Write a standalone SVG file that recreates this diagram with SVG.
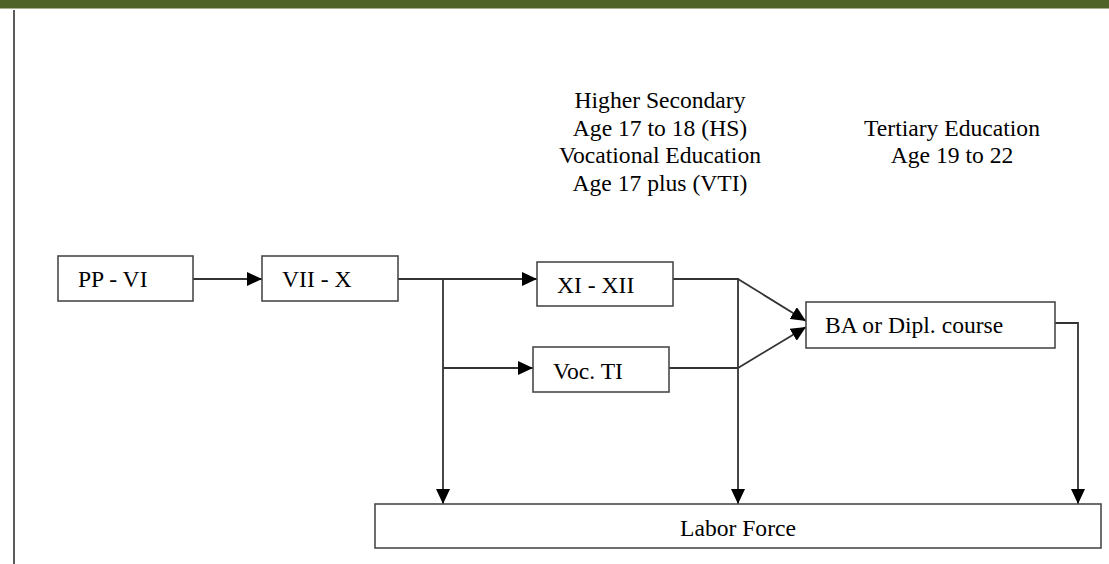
<svg xmlns="http://www.w3.org/2000/svg" width="1109" height="564" viewBox="0 0 1109 564">
<style>
.box{fill:#fff;stroke:#4a4a4a;stroke-width:1.6}
.t{font-family:"Liberation Serif","Times New Roman",serif;font-size:23.6px;fill:#000}
.c{text-anchor:middle}
.ln{fill:none;stroke:#333;stroke-width:1.8}
</style>
<defs>
<marker id="ah" viewBox="0 0 15 14" refX="15" refY="7" markerWidth="15" markerHeight="14" markerUnits="userSpaceOnUse" orient="auto">
<path d="M0,0 L15,7 L0,14 Z" fill="#000"/>
</marker>
</defs>
<rect x="0" y="0" width="1109" height="8.5" fill="#4f6228"/>
<line x1="14" y1="10" x2="14" y2="564" stroke="#333" stroke-width="1.6"/>
<g id="header-hs">
<text class="t c" x="660" y="108">Higher Secondary</text>
<text class="t c" x="660" y="136">Age 17 to 18 (HS)</text>
<text class="t c" x="660" y="163">Vocational Education</text>
<text class="t c" x="660" y="191">Age 17 plus (VTI)</text>
</g>
<g id="header-tertiary">
<text class="t c" x="952" y="136">Tertiary Education</text>
<text class="t c" x="952" y="163">Age 19 to 22</text>
</g>
<g id="connectors">
<line class="ln" x1="193" y1="279" x2="262" y2="279" marker-end="url(#ah)"/>
<line class="ln" x1="398" y1="279" x2="537" y2="279" marker-end="url(#ah)"/>
<line class="ln" x1="443" y1="279" x2="443" y2="504" marker-end="url(#ah)"/>
<line class="ln" x1="443" y1="368" x2="533" y2="368" marker-end="url(#ah)"/>
<polyline class="ln" points="673,279 738,279 738,504" marker-end="url(#ah)"/>
<line class="ln" x1="669" y1="368" x2="738" y2="368"/>
<line class="ln" x1="738" y1="279" x2="806" y2="321" marker-end="url(#ah)"/>
<line class="ln" x1="738" y1="368" x2="806" y2="327" marker-end="url(#ah)"/>
<polyline class="ln" points="1055,323 1078,323 1078,504" marker-end="url(#ah)"/>
</g>
<g id="pp-vi"><rect class="box" x="58" y="256" width="135" height="45"/><text class="t" x="78" y="287">PP - VI</text></g>
<g id="vii-x"><rect class="box" x="262" y="256" width="136" height="45"/><text class="t" x="282" y="287">VII - X</text></g>
<g id="xi-xii"><rect class="box" x="537" y="262" width="136" height="44"/><text class="t" x="557" y="293">XI - XII</text></g>
<g id="voc-ti"><rect class="box" x="533" y="347" width="136" height="45"/><text class="t" x="553" y="379">Voc. TI</text></g>
<g id="ba"><rect class="box" x="806" y="302" width="249" height="46"/><text class="t" x="825" y="333">BA or Dipl. course</text></g>
<g id="labor-force"><rect class="box" x="375" y="504" width="726" height="44"/><text class="t" x="680" y="536">Labor Force</text></g>
</svg>
